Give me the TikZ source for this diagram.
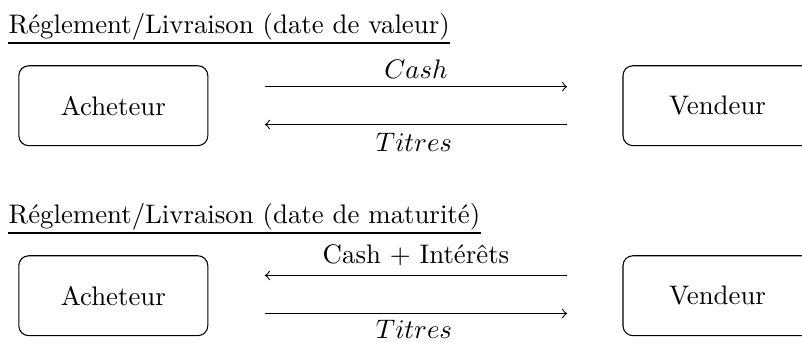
\documentclass[tikz,border=0pt]{standalone}
\begin{document}
\begin{tikzpicture}[x=0.373pt,y=-0.373pt,
  party/.style={draw,rounded corners=3.7pt,minimum width=70.5pt,minimum height=29.8pt,inner sep=0pt,line width=0.4pt},
  flow/.style={->,line width=0.4pt},
  lbl/.style={anchor=base,inner sep=0pt},
  ttl/.style={anchor=base west,inner sep=0pt},
  uline/.style={line width=0.6pt}]
\useasboundingbox (0,0) rectangle (802,341);
% section 1
\node[ttl] (t1) at (8,33.3) {Réglement/Livraison (date de valeur)};
\draw[uline] (t1.base west) ++(0,9.7) coordinate (u1) -- (u1 -| t1.east);
\node[party] (a1) at (113.3,105.7) {Acheteur};
\node[party] (v1) at (717.5,105.7) {Vendeur};
\coordinate (p1l) at (265,86.7);
\coordinate (p1r) at (567,86.7);
\coordinate (q1l) at (265,124.5);
\coordinate (q1r) at (567,124.5);
\draw[flow] (p1l) -- (p1r);
\draw[flow] (q1r) -- (q1l);
\node[lbl] (c1) at (416,78.3) {$Cash$};
\node[lbl] (s1) at (414,151) {$Titres$};
% section 2
\node[ttl] (t2) at (8,223.3) {Réglement/Livraison (date de maturité)};
\draw[uline] (t2.base west) ++(0,9.7) coordinate (u2) -- (u2 -| t2.east);
\node[party] (a2) at (113.3,295.7) {Acheteur};
\node[party] (v2) at (717.5,295.7) {Vendeur};
\coordinate (p2l) at (265,275.5);
\coordinate (p2r) at (567,275.5);
\coordinate (q2l) at (265,313.5);
\coordinate (q2r) at (567,313.5);
\draw[flow] (p2r) -- (p2l);
\draw[flow] (q2l) -- (q2r);
\node[lbl] (c2) at (416,263.3) {Cash $+$ Intérêts};
\node[lbl] (s2) at (414,338.5) {$Titres$};
\end{tikzpicture}
\end{document}
